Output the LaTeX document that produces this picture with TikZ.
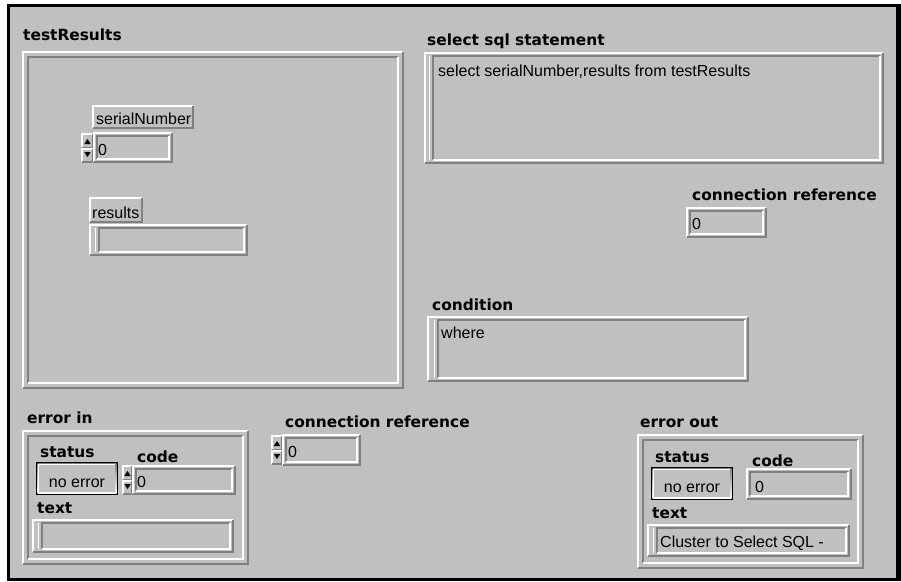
\documentclass[tikz,border=0pt]{standalone}
\usepackage{fontspec}
\setmainfont{Liberation Sans}
\newfontfamily\lblfont{DejaVu Sans}
\usetikzlibrary{fit}

\definecolor{panel}{HTML}{C0C0C0}
\definecolor{shade}{HTML}{808080}

\tikzset{
  lbl/.style={anchor=base west, inner sep=0pt, text=black,
    font=\lblfont\bfseries\fontsize{15.4}{18}\selectfont},
  val/.style={anchor=base west, inner sep=0pt, text=black,
    font=\fontsize{16}{19}\selectfont},
  lite/.style={draw=white, line width=1.4pt},
  dark/.style={draw=shade, line width=1.4pt},
  area/.style={inner sep=0pt, outer sep=0pt},
}

% bevelled edges: light top/left and dark bottom/right, or the reverse
\newcommand{\raisedrect}[4]{%
  \draw[lite] (#1,#4) -- (#1,#2) -- (#3,#2);
  \draw[dark] (#3,#2) -- (#3,#4) -- (#1,#4);}
\newcommand{\sunkenrect}[4]{%
  \draw[dark] (#1,#4) -- (#1,#2) -- (#3,#2);
  \draw[lite] (#3,#2) -- (#3,#4) -- (#1,#4);}

% grooved frame: name, x1, y1, x2, y2, inset
\newcommand{\grooveframe}[6]{%
  \node[area, fit={(#2,#3) (#4,#5)}] (#1) {};
  \raisedrect{#2}{#3}{#4}{#5}
  \sunkenrect{#2+#6}{#3+#6}{#4-#6}{#5-#6}}

% string field with a wide left border: name, x1, y1, x2, y2, left inset
\newcommand{\stringfield}[6]{%
  \node[area, fit={(#2,#3) (#4,#5)}] (#1) {};
  \raisedrect{#2}{#3}{#4}{#5}
  \draw[lite] (#2+#6-3.5,#3+3) -- (#2+#6-3.5,#5-3);
  \sunkenrect{#2+#6}{#3+3}{#4-3}{#5-3}}

% plain raised label box: name, x1, y1, x2, y2
\newcommand{\labelbox}[5]{%
  \node[area, fit={(#2,#3) (#4,#5)}] (#1) {};
  \raisedrect{#2}{#3}{#4}{#5}}

% increment/decrement buttons: name, x1, y1, x2, y2
\newcommand{\spinner}[5]{%
  \node[area, fit={(#2,#3) (#4,#5)}] (#1) {};
  \pgfmathsetmacro{\spmx}{(#2+#4)/2}%
  \pgfmathsetmacro{\spmy}{(#3+#5)/2}%
  \pgfmathsetmacro{\spa}{\spmy-0.8}%
  \pgfmathsetmacro{\spb}{\spmy+0.8}%
  \raisedrect{#2}{#3}{#4}{\spa}
  \raisedrect{#2}{\spb}{#4}{#5}
  \fill[black] (\spmx-3.2,\spmy-4) -- (\spmx+3.2,\spmy-4) -- (\spmx,\spmy-9) -- cycle;
  \fill[black] (\spmx-3.2,\spmy+4) -- (\spmx+3.2,\spmy+4) -- (\spmx,\spmy+9) -- cycle;}

% status push button: name, x1, y1, x2, y2
\newcommand{\statusbutton}[5]{%
  \node[area, fit={(#2,#3) (#4,#5)}] (#1) {};
  \fill[black] (#2,#3) rectangle (#4,#5);
  \fill[shade] (#2+1.5,#3+1.5) rectangle (#4-1.5,#5-1.5);
  \fill[white] (#2+1.5,#3+1.5) rectangle (#4-3.5,#5-3.5);
  \fill[panel] (#2+3,#3+3) rectangle (#4-3.5,#5-3.5);}

\begin{document}
\begin{tikzpicture}[x=1pt, y=-1pt]
  \useasboundingbox (0,0) rectangle (901,581);
  \fill[white] (0,0) rectangle (901,581);
  % window border and panel
  \fill[black] (7,4) rectangle (901,581);
  \fill[panel] (10,7) rectangle (896,578);

  % ---- testResults array ----
  \node[lbl] (tRlbl) at (23,40) {testResults};
  \grooveframe{tRframe}{23}{52}{403}{388}{5}
  \labelbox{snbox}{93}{106}{193}{128}
  \node[val] (snlbl) at (96,124) {serialNumber};
  \spinner{snspin}{82}{134}{93}{162}
  \grooveframe{snfield}{94}{133}{172}{162}{3}
  \node[val] (snval) at (98,155) {0};
  \labelbox{resbox}{90}{198}{142}{222}
  \node[val] (reslbl) at (92,218) {results};
  \stringfield{resfield}{90}{225}{247}{255}{9}

  % ---- select sql statement ----
  \node[lbl] (sqllbl) at (427,45) {select sql statement};
  \stringfield{sqlfield}{425}{53}{883}{163}{8}
  \node[val] (sqlval) at (438,76) {select serialNumber,results from testResults};

  % ---- connection reference (indicator) ----
  \node[lbl] (crlbl) at (692,200) {connection reference};
  \grooveframe{crfield}{687}{208}{766}{237}{3}
  \node[val] (crval) at (692,229) {0};

  % ---- condition ----
  \node[lbl] (condlbl) at (432,310) {condition};
  \stringfield{condfield}{428}{317}{748}{381}{10}
  \node[val] (condval) at (441,338) {where};

  % ---- error in cluster ----
  \node[lbl] (eilbl) at (27,423) {error in};
  \grooveframe{eiframe}{23}{431}{248}{564}{5}
  \node[lbl] (eistatus) at (40,457) {status};
  \node[lbl] (eicode) at (137,462) {code};
  \statusbutton{eibtn}{36}{462}{118}{495}
  \node[val, anchor=base] (eibtntext) at (77,487) {no error};
  \spinner{eispin}{123}{466}{132}{494}
  \grooveframe{eicodefield}{133}{466}{235}{494}{3}
  \node[val] (eicodeval) at (137,487) {0};
  \node[lbl] (eitext) at (37,513) {text};
  \stringfield{eitextfield}{33}{520}{233}{552}{9}

  % ---- connection reference (control) ----
  \node[lbl] (cr2lbl) at (285,427) {connection reference};
  \spinner{cr2spin}{272}{436}{282}{464}
  \grooveframe{cr2field}{283}{435}{360}{465}{3}
  \node[val] (cr2val) at (288,457) {0};

  % ---- error out cluster ----
  \node[lbl] (eolbl) at (640,427) {error out};
  \grooveframe{eoframe}{638}{435}{863}{568}{5}
  \node[lbl] (eostatus) at (655,462) {status};
  \node[lbl] (eocode) at (752,466) {code};
  \statusbutton{eobtn}{651}{467}{733}{500}
  \node[val, anchor=base] (eobtntext) at (692,492) {no error};
  \grooveframe{eocodefield}{747}{469}{851}{499}{3}
  \node[val] (eocodeval) at (755,492) {0};
  \node[lbl] (eotext) at (652,518) {text};
  \stringfield{eotextfield}{648}{525}{849}{556}{9}
  \node[val] (eotextval) at (660,547) {Cluster to Select SQL -};
\end{tikzpicture}
\end{document}
